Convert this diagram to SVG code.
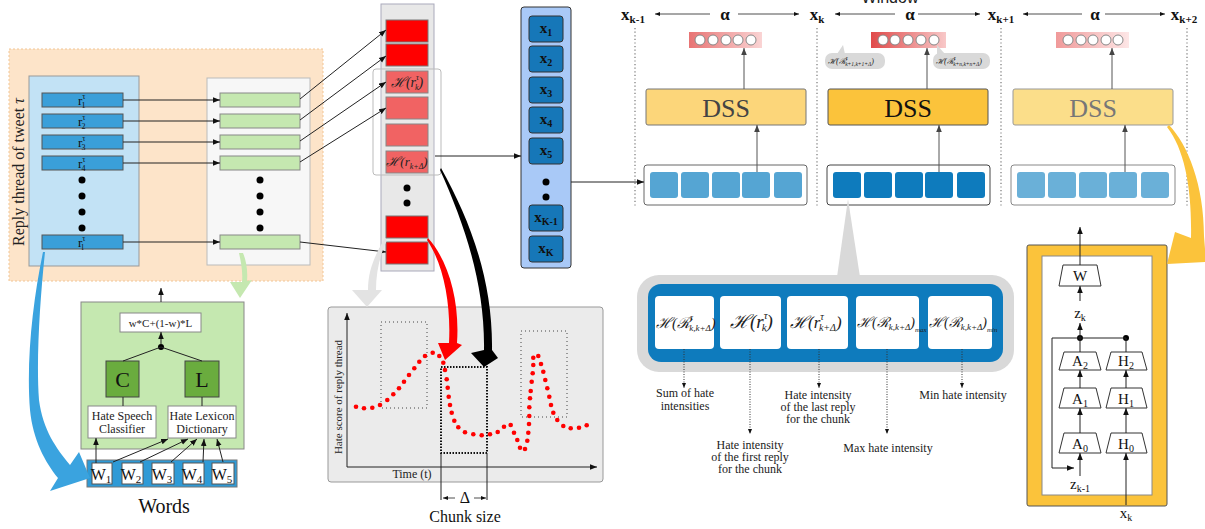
<svg xmlns="http://www.w3.org/2000/svg" width="1205" height="529" viewBox="0 0 1205 529">
<style>
.serif{font-family:"Liberation Serif","DejaVu Serif",serif;}
.sans{font-family:"Liberation Sans","DejaVu Sans",sans-serif;}
.ln{stroke:#222;stroke-width:1;fill:none;}
.lng{stroke:#555;stroke-width:1;fill:none;}
.rb{fill:#3a9fd9;stroke:#555;stroke-width:1;}
.gb{fill:#c5e8b0;stroke:#888;stroke-width:1;}
.red{fill:#ff0000;stroke:#777;stroke-width:1;}
.redl{fill:#f04e4e;stroke:#777;stroke-width:1;}
.xb{fill:#1677b8;stroke:#333;stroke-width:1;}
.sq1{fill:#55a5d3;}
.sq2{fill:#0e7bbd;}
.sq3{fill:#6ab0d8;}
.nc{fill:#fff;stroke:#888;stroke-width:1;}
.dot{fill:#000;}
.rd{fill:#ff0000;}
.vd{stroke:#777;stroke-width:1.2;stroke-dasharray:1.2,2.4;fill:none;}
.trap{fill:#fff;stroke:#333;stroke-width:1;}
.lbl{font-family:"Liberation Serif","DejaVu Serif",serif;font-size:12px;fill:#222;text-anchor:middle;}
.hx{font-family:"Liberation Serif","DejaVu Serif",serif;font-style:italic;fill:#222;}
</style>
<defs>
<marker id="ah" viewBox="0 0 10 10" refX="10" refY="5" markerWidth="7" markerHeight="7" markerUnits="userSpaceOnUse" orient="auto"><path d="M0,1 L10,5 L0,9 Z" fill="#111"/></marker>
<marker id="ahg" viewBox="0 0 10 10" refX="10" refY="5" markerWidth="7" markerHeight="7" markerUnits="userSpaceOnUse" orient="auto"><path d="M0,1 L10,5 L0,9 Z" fill="#444"/></marker>
<marker id="ahs" viewBox="0 0 10 10" refX="10" refY="5" markerWidth="5" markerHeight="5" markerUnits="userSpaceOnUse" orient="auto"><path d="M0,1 L10,5 L0,9 Z" fill="#111"/></marker>
<linearGradient id="g1" x1="0" x2="1" y1="0" y2="0"><stop offset="0" stop-color="#e87474"/><stop offset="1" stop-color="#fad4d4"/></linearGradient>
<linearGradient id="g2" x1="0" x2="1" y1="0" y2="0"><stop offset="0" stop-color="#e04a4a"/><stop offset="1" stop-color="#f8c8c8"/></linearGradient>
<linearGradient id="g3" x1="0" x2="1" y1="0" y2="0"><stop offset="0" stop-color="#f09a9a"/><stop offset="1" stop-color="#fde6e6"/></linearGradient>
</defs>

<!-- Reply thread region -->
<g id="reply-thread">
<rect x="9" y="49" width="314" height="232" fill="#fde4c9" stroke="#f2c594" stroke-width="1" stroke-dasharray="2,2"/>
<rect x="29" y="76" width="110" height="190" fill="#c2e2f5" stroke="#999" stroke-width="1"/>
<text class="serif" font-size="16" fill="#222" text-anchor="middle" transform="translate(24,172) rotate(-90)">Reply thread of tweet <tspan font-style="italic">τ</tspan></text>
<rect class="rb" x="42" y="93" width="81" height="14"/>
<rect class="rb" x="42" y="114" width="81" height="14"/>
<rect class="rb" x="42" y="135" width="81" height="14"/>
<rect class="rb" x="42" y="156" width="81" height="14"/>
<rect class="rb" x="42" y="235" width="81" height="14"/>
<g class="serif" font-size="13" fill="#111">
<text x="78" y="105">r<tspan font-size="8" dy="-6">τ</tspan><tspan font-size="8" dx="-4" dy="9">1</tspan></text>
<text x="78" y="126">r<tspan font-size="8" dy="-6">τ</tspan><tspan font-size="8" dx="-4" dy="9">2</tspan></text>
<text x="78" y="147">r<tspan font-size="8" dy="-6">τ</tspan><tspan font-size="8" dx="-4" dy="9">3</tspan></text>
<text x="78" y="168">r<tspan font-size="8" dy="-6">τ</tspan><tspan font-size="8" dx="-4" dy="9">4</tspan></text>
<text x="78" y="247">r<tspan font-size="8" dy="-6">τ</tspan><tspan font-size="8" dx="-4" dy="9">l</tspan></text>
</g>
<circle class="dot" cx="82" cy="180" r="3.5"/><circle class="dot" cx="82" cy="196" r="3.5"/><circle class="dot" cx="82" cy="212" r="3.5"/><circle class="dot" cx="82" cy="228" r="3.5"/>
</g>

<g id="score-column">
<rect x="207" y="78" width="103" height="187" fill="#f7f7f7" stroke="#bbb" stroke-width="1"/>
<rect class="gb" x="220" y="93" width="80" height="14"/>
<rect class="gb" x="220" y="114" width="80" height="14"/>
<rect class="gb" x="220" y="135" width="80" height="14"/>
<rect class="gb" x="220" y="156" width="80" height="14"/>
<rect class="gb" x="220" y="235" width="80" height="14"/>
<circle class="dot" cx="260" cy="180" r="3.5"/><circle class="dot" cx="260" cy="196" r="3.5"/><circle class="dot" cx="260" cy="212" r="3.5"/><circle class="dot" cx="260" cy="228" r="3.5"/>
</g>

<!-- Hate scoring module -->
<g id="hate-module">
<rect x="81" y="302" width="163" height="147" fill="#c5e8b0" stroke="#888" stroke-width="1"/>
<rect x="120" y="313" width="81" height="19" fill="#fff" stroke="#888"/>
<text class="serif" x="160.5" y="327" font-size="11" text-anchor="middle" fill="#222">w*C+(1-w)*L</text>
<rect x="106" y="361" width="33" height="36" fill="#6aac3e" stroke="#444"/>
<text class="serif" x="122.5" y="387" font-size="22" text-anchor="middle" fill="#111">C</text>
<rect x="185" y="361" width="34" height="36" fill="#6aac3e" stroke="#444"/>
<text class="serif" x="202" y="387" font-size="22" text-anchor="middle" fill="#111">L</text>
<rect x="88" y="406" width="68" height="32" fill="#fff" stroke="#888"/>
<text class="lbl" x="122" y="420">Hate Speech</text><text class="lbl" x="122" y="433">Classifier</text>
<rect x="168" y="406" width="68" height="32" fill="#fff" stroke="#888"/>
<text class="lbl" x="202" y="420">Hate Lexicon</text><text class="lbl" x="202" y="433">Dictionary</text>
<circle class="dot" cx="161" cy="347" r="3"/>
</g>

<g id="words">
<rect x="87" y="460" width="150" height="27" fill="#2f9ad6" stroke="#777"/>
<g fill="#fff" stroke="#555"><rect x="92" y="463" width="20" height="21"/><rect x="122" y="463" width="21" height="21"/><rect x="152" y="463" width="22" height="21"/><rect x="183" y="463" width="21" height="21"/><rect x="212" y="463" width="22" height="21"/></g>
<g class="serif" font-size="16" fill="#111" text-anchor="middle">
<text x="101" y="480">W<tspan font-size="11" dy="3">1</tspan></text>
<text x="131" y="480">W<tspan font-size="11" dy="3">2</tspan></text>
<text x="162" y="480">W<tspan font-size="11" dy="3">3</tspan></text>
<text x="192" y="480">W<tspan font-size="11" dy="3">4</tspan></text>
<text x="222" y="480">W<tspan font-size="11" dy="3">5</tspan></text>
</g>
<text class="serif" x="164" y="513" font-size="20" text-anchor="middle" fill="#111">Words</text>
</g>

<!-- Red hate score column -->
<g id="hate-scores">
<rect x="381" y="4" width="53" height="267" fill="#e8e8e8" stroke="#aab" stroke-width="1"/>
<rect class="red" x="386" y="20" width="42" height="22"/>
<rect class="red" x="386" y="44" width="42" height="22"/>
<rect class="redl" x="386" y="71" width="42" height="22"/>
<rect class="redl" x="386" y="97" width="42" height="22"/>
<rect class="redl" x="386" y="124" width="42" height="22"/>
<rect class="redl" x="386" y="151" width="42" height="22"/>
<rect class="red" x="386" y="216" width="42" height="22"/>
<rect class="red" x="386" y="242" width="42" height="22"/>
<circle class="dot" cx="407" cy="188" r="3.5"/><circle class="dot" cx="407" cy="203" r="3.5"/>
<rect x="373" y="69" width="68" height="106" rx="3" fill="#ffffff" fill-opacity="0.12" stroke="#bbb" stroke-width="1"/>
<text class="hx" x="407" y="87" font-size="14" text-anchor="middle">ℋ(r<tspan font-size="8" dy="-7">τ</tspan><tspan font-size="8" dx="-4" dy="10">k</tspan><tspan dy="-3">)</tspan></text>
<text class="hx" x="407" y="166" font-size="13" text-anchor="middle">ℋ(r<tspan font-size="8" dy="3">k+Δ</tspan><tspan dy="-3">)</tspan></text>
</g>

<!-- x column -->
<g id="x-column">
<rect x="521" y="7" width="50" height="261" rx="3" fill="#a9c9f7" stroke="#333" stroke-width="1"/>
<rect class="xb" x="529" y="16" width="34" height="26" rx="3"/>
<rect class="xb" x="529" y="46" width="34" height="26" rx="3"/>
<rect class="xb" x="529" y="77" width="34" height="26" rx="3"/>
<rect class="xb" x="529" y="107" width="34" height="26" rx="3"/>
<rect class="xb" x="529" y="138" width="34" height="26" rx="3"/>
<rect class="xb" x="529" y="205" width="34" height="26" rx="3"/>
<rect class="xb" x="529" y="236" width="34" height="26" rx="3"/>
<circle class="dot" cx="546" cy="182" r="3.5"/><circle class="dot" cx="546" cy="197" r="3.5"/>
<g class="serif" font-weight="bold" font-size="15" fill="#111" text-anchor="middle">
<text x="546" y="33">x<tspan font-size="10" dy="3">1</tspan></text>
<text x="546" y="63">x<tspan font-size="10" dy="3">2</tspan></text>
<text x="546" y="94">x<tspan font-size="10" dy="3">3</tspan></text>
<text x="546" y="124">x<tspan font-size="10" dy="3">4</tspan></text>
<text x="546" y="155">x<tspan font-size="10" dy="3">5</tspan></text>
<text x="546" y="222">x<tspan font-size="10" dy="3">K-1</tspan></text>
<text x="546" y="253">x<tspan font-size="10" dy="3">K</tspan></text>
</g>
</g>

<!-- Hate score plot -->
<g id="plot">
<rect x="328" y="307" width="275" height="175" rx="3" fill="#ebebeb" stroke="#999" stroke-width="1"/>
<line class="ln" x1="347" y1="467" x2="347" y2="313" marker-end="url(#ah)"/>
<line class="ln" x1="347" y1="467" x2="597" y2="467" marker-end="url(#ah)"/>
<text class="serif" font-size="11" fill="#222" text-anchor="middle" transform="translate(342,397) rotate(-90)">Hate score of reply thread</text>
<text class="serif" x="412" y="478" font-size="12" fill="#222" text-anchor="middle">Time (t)</text>
<rect x="381" y="322" width="46" height="86" fill="none" stroke="#444" stroke-width="1" stroke-dasharray="1,3"/>
<rect x="521" y="331" width="46" height="86" fill="none" stroke="#444" stroke-width="1" stroke-dasharray="1,3"/>
<rect x="441" y="367" width="46" height="86" fill="none" stroke="#111" stroke-width="2" stroke-dasharray="1.5,1.5"/>
<line class="ln" x1="441" y1="453" x2="441" y2="500"/>
<line class="ln" x1="487" y1="453" x2="487" y2="500"/>
<line x1="455" y1="498" x2="443" y2="498" stroke="#222" stroke-width="0.8" marker-end="url(#ahs)"/>
<line x1="474" y1="498" x2="486" y2="498" stroke="#222" stroke-width="0.8" marker-end="url(#ahs)"/>
<text class="serif" x="465" y="503" font-size="16" fill="#111" text-anchor="middle">Δ</text>
<text class="serif" x="465" y="522" font-size="16" fill="#111" text-anchor="middle">Chunk size</text>
<g class="rd">
<circle cx="356" cy="406.7" r="2.3"/><circle cx="364" cy="408.3" r="2.3"/><circle cx="372.3" cy="407.7" r="2.3"/><circle cx="380" cy="405" r="2.3"/><circle cx="387.3" cy="400" r="2.3"/><circle cx="393.3" cy="394.3" r="2.3"/><circle cx="399" cy="388.3" r="2.3"/><circle cx="404" cy="381.7" r="2.3"/><circle cx="409" cy="375" r="2.3"/><circle cx="414.3" cy="368.3" r="2.3"/><circle cx="419.3" cy="361.7" r="2.3"/><circle cx="425" cy="356" r="2.3"/><circle cx="432.7" cy="352.7" r="2.3"/><circle cx="439.3" cy="356" r="2.3"/><circle cx="443.3" cy="362.7" r="2.3"/><circle cx="445" cy="370" r="2.3"/><circle cx="446.7" cy="379.3" r="2.3"/><circle cx="447.7" cy="387.7" r="2.3"/><circle cx="448.7" cy="396.7" r="2.3"/><circle cx="450" cy="405" r="2.3"/><circle cx="451.7" cy="412.7" r="2.3"/><circle cx="454.3" cy="420.7" r="2.3"/><circle cx="458.3" cy="427.3" r="2.3"/><circle cx="465" cy="432.3" r="2.3"/><circle cx="473.3" cy="434.3" r="2.3"/><circle cx="481.7" cy="435.3" r="2.3"/><circle cx="490" cy="434.3" r="2.3"/><circle cx="497.7" cy="432" r="2.3"/><circle cx="504" cy="426.7" r="2.3"/><circle cx="510.7" cy="425" r="2.3"/><circle cx="514" cy="432.7" r="2.3"/><circle cx="517.3" cy="440" r="2.3"/><circle cx="520" cy="447.7" r="2.3"/><circle cx="525" cy="449" r="2.3"/><circle cx="527.3" cy="440.7" r="2.3"/><circle cx="528.3" cy="432.7" r="2.3"/><circle cx="529" cy="424" r="2.3"/><circle cx="529.3" cy="416" r="2.3"/><circle cx="529.3" cy="407.3" r="2.3"/><circle cx="530" cy="398.3" r="2.3"/><circle cx="530.7" cy="391" r="2.3"/><circle cx="531.7" cy="381.7" r="2.3"/><circle cx="532.7" cy="373.3" r="2.3"/><circle cx="533.3" cy="365" r="2.3"/><circle cx="533.3" cy="357.7" r="2.3"/><circle cx="538.3" cy="356" r="2.3"/><circle cx="541" cy="364" r="2.3"/><circle cx="543.3" cy="371.7" r="2.3"/><circle cx="545.3" cy="380" r="2.3"/><circle cx="547.3" cy="388.3" r="2.3"/><circle cx="549.3" cy="396.7" r="2.3"/><circle cx="551" cy="405" r="2.3"/><circle cx="553.3" cy="412.7" r="2.3"/><circle cx="557.3" cy="420" r="2.3"/><circle cx="563.3" cy="426" r="2.3"/><circle cx="570.7" cy="428.3" r="2.3"/><circle cx="579" cy="427.7" r="2.3"/><circle cx="586.7" cy="425.3" r="2.3"/>
</g>
</g>

<!-- Top axis labels -->
<g id="window-axis">
<text class="sans" x="890" y="3" font-size="16" fill="#222" text-anchor="middle">Window</text>
<g class="serif" font-weight="bold" fill="#111" font-size="17" text-anchor="middle">
<text x="633" y="20">x<tspan font-size="11" dy="3">k-1</tspan></text>
<text x="725" y="20">α</text>
<text x="817" y="20">x<tspan font-size="11" dy="3">k</tspan></text>
<text x="910" y="20">α</text>
<text x="1001" y="20">x<tspan font-size="11" dy="3">k+1</tspan></text>
<text x="1095" y="20">α</text>
<text x="1184" y="20">x<tspan font-size="11" dy="3">k+2</tspan></text>
</g>
<line x1="710" y1="14" x2="655" y2="14" stroke="#222" stroke-width="0.8" marker-end="url(#ahs)"/>
<line x1="738" y1="14" x2="799" y2="14" stroke="#222" stroke-width="0.8" marker-end="url(#ahs)"/>
<line x1="895" y1="14" x2="835" y2="14" stroke="#222" stroke-width="0.8" marker-end="url(#ahs)"/>
<line x1="918" y1="14" x2="980" y2="14" stroke="#222" stroke-width="0.8" marker-end="url(#ahs)"/>
<line x1="1082" y1="14" x2="1023" y2="14" stroke="#222" stroke-width="0.8" marker-end="url(#ahs)"/>
<line x1="1105" y1="14" x2="1165" y2="14" stroke="#222" stroke-width="0.8" marker-end="url(#ahs)"/>
<line class="vd" x1="635" y1="28" x2="635" y2="208"/>
<line class="vd" x1="817" y1="28" x2="817" y2="208"/>
<line class="vd" x1="1001" y1="28" x2="1001" y2="208"/>
<line class="vd" x1="1187" y1="28" x2="1187" y2="208"/>
</g>

<!-- DSS window 1 -->
<g id="dss-1">
<rect x="689" y="32" width="73" height="16" fill="url(#g1)"/>
<circle class="nc" cx="700" cy="40" r="5"/><circle class="nc" cx="713" cy="40" r="5"/><circle class="nc" cx="726" cy="40" r="5"/><circle class="nc" cx="738" cy="40" r="5"/><circle class="nc" cx="751" cy="40" r="5"/>
<rect x="646" y="89" width="160" height="36" rx="2" fill="#fcd67a" stroke="#777"/>
<text class="serif" x="726" y="117" font-size="26" fill="#444" text-anchor="middle">DSS</text>
<rect x="644" y="165" width="163" height="40" rx="3" fill="#fff" stroke="#666"/>
<rect class="sq1" x="650" y="172" width="28" height="26" rx="3"/><rect class="sq1" x="681" y="172" width="28" height="26" rx="3"/><rect class="sq1" x="712" y="172" width="28" height="26" rx="3"/><rect class="sq1" x="742" y="172" width="28" height="26" rx="3"/><rect class="sq1" x="774" y="172" width="28" height="26" rx="3"/>
</g>

<!-- DSS window 2 -->
<g id="dss-2">
<rect x="871" y="32" width="75" height="16" fill="url(#g2)"/>
<circle class="nc" cx="883" cy="40" r="5"/><circle class="nc" cx="895" cy="40" r="5"/><circle class="nc" cx="908" cy="40" r="5"/><circle class="nc" cx="921" cy="40" r="5"/><circle class="nc" cx="934" cy="40" r="5"/>
<rect x="825" y="53" width="60" height="16" rx="7" fill="#d9d9d9"/>
<path d="M837,54 L845,54 L843,45 Z" fill="#d9d9d9"/>
<text class="hx" x="828" y="64" font-size="8">ℋ(ℛ<tspan font-size="5.5" dy="-4">τ</tspan><tspan font-size="5.5" dx="-2.5" dy="6">k+1,k+1+Δ</tspan><tspan dy="-2">)</tspan></text>
<rect x="933" y="53" width="57" height="16" rx="7" fill="#d9d9d9"/>
<path d="M937,54 L945,54 L937,45 Z" fill="#d9d9d9"/>
<text class="hx" x="936" y="64" font-size="8">ℋ(ℛ<tspan font-size="5.5" dy="-4">τ</tspan><tspan font-size="5.5" dx="-2.5" dy="6">k+n,k+n+Δ</tspan><tspan dy="-2">)</tspan></text>
<rect x="828" y="89" width="160" height="36" rx="2" fill="#fbc33b" stroke="#555"/>
<text class="serif" x="908" y="117" font-size="26" fill="#111" text-anchor="middle">DSS</text>
<rect x="827" y="165" width="163" height="40" rx="3" fill="#fff" stroke="#444"/>
<rect class="sq2" x="833" y="172" width="28" height="26" rx="3"/><rect class="sq2" x="864" y="172" width="28" height="26" rx="3"/><rect class="sq2" x="895" y="172" width="28" height="26" rx="3"/><rect class="sq2" x="925" y="172" width="28" height="26" rx="3"/><rect class="sq2" x="957" y="172" width="28" height="26" rx="3"/>
</g>

<!-- DSS window 3 -->
<g id="dss-3">
<rect x="1056" y="32" width="73" height="16" fill="url(#g3)"/>
<circle class="nc" cx="1068" cy="40" r="5"/><circle class="nc" cx="1081" cy="40" r="5"/><circle class="nc" cx="1093" cy="40" r="5"/><circle class="nc" cx="1106" cy="40" r="5"/><circle class="nc" cx="1118" cy="40" r="5"/>
<rect x="1013" y="89" width="160" height="36" rx="2" fill="#fbde8a" stroke="#999"/>
<text class="serif" x="1093" y="117" font-size="26" fill="#777" text-anchor="middle">DSS</text>
<rect x="1011" y="165" width="164" height="40" rx="3" fill="#fff" stroke="#888"/>
<rect class="sq3" x="1017" y="172" width="28" height="26" rx="3"/><rect class="sq3" x="1048" y="172" width="28" height="26" rx="3"/><rect class="sq3" x="1079" y="172" width="28" height="26" rx="3"/><rect class="sq3" x="1109" y="172" width="28" height="26" rx="3"/><rect class="sq3" x="1141" y="172" width="28" height="26" rx="3"/>
</g>

<!-- Feature callout -->
<g id="features">
<path d="M848,199 L837,277 L860,277 Z" fill="#d9d9d9"/>
<rect x="637" y="275" width="377" height="97" rx="22" fill="#d9d9d9"/>
<rect x="648" y="284" width="355" height="78" rx="13" fill="#0e7bbd"/>
<g fill="#fff"><rect x="655" y="296" width="59" height="53" rx="4"/><rect x="720" y="296" width="61" height="53" rx="4"/><rect x="787" y="296" width="61" height="53" rx="4"/><rect x="856" y="296" width="63" height="53" rx="4"/><rect x="928" y="296" width="64" height="53" rx="4"/></g>
<text class="hx" x="656" y="328" font-size="15">ℋ(ℛ<tspan font-size="9" dy="-8">τ</tspan><tspan font-size="9" dx="-4" dy="11">k,k+Δ</tspan><tspan dy="-3">)</tspan></text>
<text class="hx" x="730" y="328" font-size="19">ℋ(r<tspan font-size="11" dy="-9">τ</tspan><tspan font-size="11" dx="-6" dy="12">k</tspan><tspan dy="-3">)</tspan></text>
<text class="hx" x="790" y="328" font-size="17">ℋ(r<tspan font-size="10" dy="-8">τ</tspan><tspan font-size="10" dx="-5" dy="11">k+Δ</tspan><tspan dy="-3">)</tspan></text>
<text class="hx" x="857" y="327" font-size="14">ℋ(ℛ<tspan font-size="9" dy="3">k,k+Δ</tspan><tspan dy="-3">)</tspan><tspan font-size="7" dy="5">max</tspan></text>
<text class="hx" x="929" y="327" font-size="14">ℋ(ℛ<tspan font-size="9" dy="3">k,k+Δ</tspan><tspan dy="-3">)</tspan><tspan font-size="7" dy="5">min</tspan></text>
<line x1="684" y1="349" x2="684" y2="388" stroke="#333" stroke-width="1" stroke-dasharray="1,1.5" marker-end="url(#ahs)"/>
<line x1="750" y1="349" x2="750" y2="434" stroke="#333" stroke-width="1" stroke-dasharray="1,1.5" marker-end="url(#ahs)"/>
<line x1="819" y1="349" x2="819" y2="388" stroke="#333" stroke-width="1" stroke-dasharray="1,1.5" marker-end="url(#ahs)"/>
<line x1="887" y1="349" x2="887" y2="434" stroke="#333" stroke-width="1" stroke-dasharray="1,1.5" marker-end="url(#ahs)"/>
<line x1="962" y1="349" x2="962" y2="388" stroke="#333" stroke-width="1" stroke-dasharray="1,1.5" marker-end="url(#ahs)"/>
<text class="lbl" x="685" y="397">Sum of hate</text><text class="lbl" x="685" y="410">intensities</text>
<text class="lbl" x="750" y="449">Hate intensity</text><text class="lbl" x="750" y="461">of the first reply</text><text class="lbl" x="750" y="473">for the chunk</text>
<text class="lbl" x="818" y="399">Hate intensity</text><text class="lbl" x="818" y="411">of the last reply</text><text class="lbl" x="818" y="423">for the chunk</text>
<text class="lbl" x="888" y="452">Max hate intensity</text>
<text class="lbl" x="963" y="399">Min hate intensity</text>
</g>

<!-- DSS internals -->
<g id="dss-detail">
<rect x="1027" y="245" width="140" height="261" rx="2" fill="#fbc33b" stroke="#555"/>
<rect x="1042" y="256" width="110" height="239" fill="#fff" stroke="#888"/>
<path class="trap" d="M1059,286 L1101,286 L1097,265 L1063,265 Z"/>
<path class="trap" d="M1059,370 L1101,370 L1096,352 L1064,352 Z"/>
<path class="trap" d="M1059,408 L1101,408 L1096,388 L1064,388 Z"/>
<path class="trap" d="M1059,453 L1101,453 L1096,433 L1064,433 Z"/>
<path class="trap" d="M1106,370 L1147,370 L1142,352 L1111,352 Z"/>
<path class="trap" d="M1106,408 L1147,408 L1142,388 L1111,388 Z"/>
<path class="trap" d="M1106,453 L1147,453 L1142,433 L1111,433 Z"/>
<g class="serif" font-size="15" fill="#111" text-anchor="middle">
<text x="1080" y="281">W</text>
<text x="1080" y="366">A<tspan font-size="10" dy="3">2</tspan></text>
<text x="1080" y="404">A<tspan font-size="10" dy="3">1</tspan></text>
<text x="1080" y="449">A<tspan font-size="10" dy="3">0</tspan></text>
<text x="1126" y="366">H<tspan font-size="10" dy="3">2</tspan></text>
<text x="1126" y="404">H<tspan font-size="10" dy="3">1</tspan></text>
<text x="1126" y="449">H<tspan font-size="10" dy="3">0</tspan></text>
<text x="1080" y="318">z<tspan font-size="10" dy="3">k</tspan></text>
<text x="1080" y="489">z<tspan font-size="10" dy="3">k-1</tspan></text>
<text x="1126" y="518">x<tspan font-size="10" dy="3">k</tspan></text>
</g>
<circle class="dot" cx="1080" cy="338" r="3"/><circle class="dot" cx="1126" cy="338" r="3"/>
</g>

<!-- Connectors -->
<g id="connectors">
<g class="ln" marker-end="url(#ah)">
<line x1="123" y1="100" x2="220" y2="100"/>
<line x1="123" y1="121" x2="220" y2="121"/>
<line x1="123" y1="142" x2="220" y2="142"/>
<line x1="123" y1="163" x2="220" y2="163"/>
<line x1="123" y1="242" x2="220" y2="242"/>
<line x1="300" y1="99" x2="386" y2="30"/>
<line x1="300" y1="120" x2="386" y2="56"/>
<line x1="300" y1="141" x2="386" y2="82"/>
<line x1="300" y1="162" x2="386" y2="108"/>
<line x1="300" y1="242" x2="386" y2="252"/>
<line x1="435" y1="156" x2="521" y2="156"/>
<line x1="571" y1="182" x2="644" y2="182"/>
<line x1="161" y1="302" x2="161" y2="288"/>
<line x1="161" y1="344" x2="161" y2="332"/>
<line x1="96" y1="463" x2="96" y2="438"/>
<line x1="113" y1="462" x2="168" y2="439"/>
<line x1="140" y1="462" x2="188" y2="439"/>
<line x1="171" y1="462" x2="197" y2="439"/>
<line x1="203" y1="462" x2="204" y2="439"/>
<line x1="223" y1="462" x2="217" y2="439"/>
<line x1="1080" y1="265" x2="1080" y2="227"/>
<line x1="1080" y1="301" x2="1080" y2="286"/>
<line x1="1080" y1="338" x2="1080" y2="323"/>
<line x1="1080" y1="433" x2="1080" y2="408"/>
<line x1="1080" y1="388" x2="1080" y2="370"/>
<line x1="1126" y1="433" x2="1126" y2="408"/>
<line x1="1126" y1="388" x2="1126" y2="370"/>
<line x1="1080" y1="476" x2="1080" y2="453"/>
<line x1="1126" y1="505" x2="1126" y2="453"/>
<polyline points="1052,338 1052,468 1074,468"/>
</g>
<line class="ln" x1="161" y1="347" x2="123" y2="361"/>
<line class="ln" x1="161" y1="347" x2="202" y2="361"/>
<line class="ln" x1="123" y1="397" x2="123" y2="406"/>
<line class="ln" x1="202" y1="397" x2="202" y2="406"/>
<line class="ln" x1="1080" y1="352" x2="1080" y2="338"/>
<line class="ln" x1="1126" y1="352" x2="1126" y2="338"/>
<line class="ln" x1="1052" y1="338" x2="1126" y2="338"/>
<g class="lng" marker-end="url(#ahg)">
<line x1="744" y1="89" x2="744" y2="48"/>
<line x1="757" y1="172" x2="757" y2="125"/>
<line x1="927" y1="89" x2="927" y2="48"/>
<line x1="939" y1="172" x2="939" y2="125"/>
<line x1="1112" y1="89" x2="1112" y2="48"/>
<line x1="1125" y1="172" x2="1125" y2="125"/>
</g>
<!-- curved block arrows -->
<path d="M43,252 C33,300 26,360 30,410 C33,440 45,462 58,478 L50,491 L90,478 L79,452 L70,465 C56,448 43,430 39,400 C36,360 40,300 45,252 Z" fill="#3aa3df"/>
<path d="M239,253 C241,262 243,272 242,282 L230,282 L240,298 L252,280 L247,281 C248,270 246,260 243,253 Z" fill="#c5e8b0"/>
<path d="M385,238 C375,255 368,270 368,290 L352,290 L367,307 L382,290 L376,290 C376,272 380,255 387,240 Z" fill="#e3e3e3"/>
<path d="M428,238 C448,260 460,300 457,343 L462,345 L445,360 L438,343 L449,343 C451,305 444,265 427,240 Z" fill="#ff0000"/>
<path d="M441,168 C470,220 493,280 492,350 L498,358 L484,367 L471,353 L484,350 C485,285 465,225 440,170 Z" fill="#000"/>
<path d="M1169,125 C1188,145 1204,185 1204,236 L1206,262 L1167,264 L1175,232 L1191,238 C1192,190 1185,150 1167,127 Z" fill="#fbc33b"/>
</g>
</svg>
